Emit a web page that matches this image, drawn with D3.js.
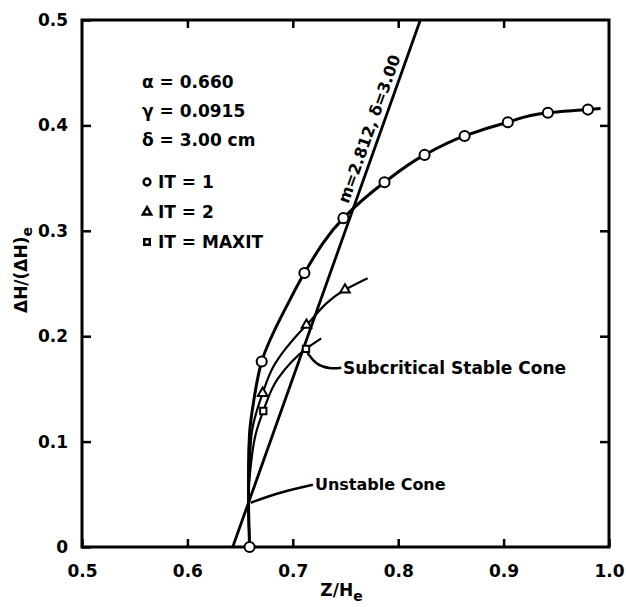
<!DOCTYPE html>
<html>
<head>
<meta charset="utf-8">
<script src="https://cdn.jsdelivr.net/npm/d3@7"></script>
<style>
  body { margin: 0; background: #fff; }
  text { font-family: "DejaVu Sans", sans-serif; font-weight: bold; fill: #000; }
</style>
</head>
<body>
<div id="chart"></div>
<script>
// values
var xTicks = [0.5, 0.6, 0.7, 0.8, 0.9, 1.0];
var xTickLabels = ["0.5", "0.6", "0.7", "0.8", "0.9", "1.0"];
var yTicks = [0, 0.1, 0.2, 0.3, 0.4, 0.5];
var yTickLabels = ["0", "0.1", "0.2", "0.3", "0.4", "0.5"];

// [x, y, marker]
var it1 = [[0.659, 0, 1], [0.658, 0.045, 0], [0.658, 0.076, 0], [0.659, 0.108, 0], [0.663, 0.139, 0],
  [0.6705, 0.176, 1], [0.697, 0.234, 0], [0.711, 0.26, 1],
  [0.748, 0.312, 1], [0.787, 0.346, 1], [0.825, 0.372, 1], [0.863, 0.390, 1], [0.904, 0.403, 1],
  [0.942, 0.412, 1], [0.980, 0.415, 1], [0.992, 0.416, 0]];
var it2 = [[0.659, 0, 0], [0.658, 0.045, 0], [0.659, 0.076, 0], [0.661, 0.108, 0], [0.6714, 0.146, 1],
  [0.6815, 0.171, 0], [0.713, 0.2106, 1], [0.7495, 0.244, 1], [0.771, 0.255, 0]];
var itMax = [[0.659, 0, 0], [0.658, 0.045, 0], [0.660, 0.076, 0], [0.665, 0.108, 0], [0.672, 0.129, 1],
  [0.686, 0.16, 0], [0.7125, 0.188, 1], [0.727, 0.198, 0]];
var mLine = [[0.643, 0], [0.821, 0.5]];
var unstableLeader = [[0.660, 0.042], [0.69, 0.052], [0.719, 0.059]];
var subcritLeader = [[0.714, 0.184], [0.722, 0.173], [0.735, 0.169], [0.746, 0.17]];
var params = ["α = 0.660", "γ = 0.0915", "δ = 3.00 cm"];
var legendItems = ["IT = 1", "IT = 2", "IT = MAXIT"];

var W = 626, H = 607;
var margin = {top: 20, right: 17, bottom: 60, left: 82};

var svg = d3.select("#chart").append("svg")
  .attr("width", W)
  .attr("height", H);

var x = d3.scaleLinear().domain([0.5, 1.0]).range([margin.left, W - margin.right]);
var y = d3.scaleLinear().domain([0, 0.5]).range([H - margin.bottom, margin.top]);

// axes, ticks pointing inward
svg.append("g")
  .attr("transform", "translate(0," + y(0) + ")")
  .call(d3.axisBottom(x).tickValues(xTicks).tickSizeInner(-8).tickSizeOuter(0).tickPadding(18)
    .tickFormat(function(d, i) { return xTickLabels[i]; }))
  .call(function(g) { g.select(".domain").remove(); })
  .call(function(g) { g.selectAll("text").attr("font-size", 17).attr("font-family", null); });

svg.append("g")
  .attr("transform", "translate(0," + y(0.5) + ")")
  .call(d3.axisTop(x).tickValues(xTicks.slice(1, -1)).tickSizeInner(-8).tickSizeOuter(0).tickFormat(""))
  .call(function(g) { g.select(".domain").remove(); });

svg.append("g")
  .attr("transform", "translate(" + x(0.5) + ",0)")
  .call(d3.axisLeft(y).tickValues(yTicks).tickSizeInner(-9).tickSizeOuter(0).tickPadding(14)
    .tickFormat(function(d, i) { return yTickLabels[i]; }))
  .call(function(g) { g.select(".domain").remove(); })
  .call(function(g) { g.selectAll("text").attr("font-size", 17).attr("font-family", null); });

svg.append("g")
  .attr("transform", "translate(" + x(1.0) + ",0)")
  .call(d3.axisRight(y).tickValues(yTicks.slice(1, -1)).tickSizeInner(-9).tickSizeOuter(0).tickFormat(""))
  .call(function(g) { g.select(".domain").remove(); });

svg.selectAll(".tick line").attr("stroke", "#000").attr("stroke-width", 2.5);

svg.append("rect")
  .attr("x", x(0.5)).attr("y", y(0.5))
  .attr("width", x(1.0) - x(0.5)).attr("height", y(0) - y(0.5))
  .attr("fill", "none").attr("stroke", "#000").attr("stroke-width", 3);

// axis titles
var yl = svg.append("text")
  .attr("transform", "translate(27," + 270 + ") rotate(-90)")
  .attr("text-anchor", "middle")
  .attr("font-size", 17);
yl.append("tspan").text("ΔH/(ΔH)");
yl.append("tspan").attr("dy", 5).attr("font-size", 14).text("e");

var xl = svg.append("text")
  .attr("x", x(0.75) - 4).attr("y", 596)
  .attr("text-anchor", "middle")
  .attr("font-size", 17);
xl.append("tspan").text("Z/H");
xl.append("tspan").attr("dy", 5).attr("font-size", 14).text("e");

// lines
var curve = d3.line()
  .x(function(d) { return x(d[0]); })
  .y(function(d) { return y(d[1]); })
  .curve(d3.curveMonotoneY);

svg.append("path").datum(mLine).attr("d", d3.line().x(function(d) { return x(d[0]); }).y(function(d) { return y(d[1]); }))
  .attr("fill", "none").attr("stroke", "#000").attr("stroke-width", 2.8);

svg.append("path").datum(itMax).attr("d", curve)
  .attr("fill", "none").attr("stroke", "#000").attr("stroke-width", 2.2);
svg.append("path").datum(it2).attr("d", curve)
  .attr("fill", "none").attr("stroke", "#000").attr("stroke-width", 2.2);
svg.append("path").datum(it1).attr("d", curve)
  .attr("fill", "none").attr("stroke", "#000").attr("stroke-width", 3);

// leaders
svg.append("path").datum(unstableLeader).attr("d", curve)
  .attr("fill", "none").attr("stroke", "#000").attr("stroke-width", 2.5);
svg.append("path").datum(subcritLeader).attr("d", d3.line().x(function(d) { return x(d[0]); }).y(function(d) { return y(d[1]); }).curve(d3.curveBasis))
  .attr("fill", "none").attr("stroke", "#000").attr("stroke-width", 2.5);

// markers
function drawMarks(data, type, size) {
  svg.selectAll(null)
    .data(data.filter(function(d) { return d[2]; }))
    .enter().append("path")
    .attr("d", d3.symbol().type(type).size(size))
    .attr("transform", function(d) { return "translate(" + x(d[0]) + "," + y(d[1]) + ")"; })
    .attr("fill", "#fff").attr("stroke", "#000").attr("stroke-width", 2);
}
drawMarks(it1, d3.symbolCircle, 80);
drawMarks(it2, d3.symbolTriangle, 40);
drawMarks(itMax, d3.symbolSquare, 40);

// annotations
svg.append("text")
  .attr("x", x(0.721)).attr("y", y(0.059)).attr("dy", "0.35em")
  .attr("font-size", 16).text("Unstable Cone");
svg.append("text")
  .attr("x", x(0.7476)).attr("y", y(0.17)).attr("dy", "0.35em")
  .attr("font-size", 17).text("Subcritical Stable Cone");

var ang = Math.atan2(y(mLine[0][1]) - y(mLine[1][1]), x(mLine[1][0]) - x(mLine[0][0])) * 180 / Math.PI;
var ly = 0.393, lx = mLine[0][0] + (ly - mLine[0][1]) * (mLine[1][0] - mLine[0][0]) / (mLine[1][1] - mLine[0][1]);
svg.append("text")
  .attr("transform", "translate(" + x(lx) + "," + y(ly) + ") rotate(" + (-ang) + ")")
  .attr("text-anchor", "middle").attr("dy", -6)
  .attr("font-size", 16).text("m=2.812, δ=3.00");

svg.selectAll(null).data(params).enter().append("text")
  .attr("x", 142).attr("y", function(d, i) { return 82 + i * 29; }).attr("dy", "0.35em")
  .attr("font-size", 17).text(function(d) { return d; });

var legendTypes = [d3.symbolCircle, d3.symbolTriangle, d3.symbolSquare];
legendItems.forEach(function(t, i) {
  var ly = 182 + i * 30;
  svg.append("path")
    .attr("d", d3.symbol().type(legendTypes[i]).size(i === 0 ? 36 : 30))
    .attr("transform", "translate(147," + ly + ")")
    .attr("fill", "#fff").attr("stroke", "#000").attr("stroke-width", 2.5);
  svg.append("text")
    .attr("x", 158).attr("y", ly).attr("dy", "0.35em")
    .attr("font-size", 17).text(t);
});
</script>
</body>
</html>
